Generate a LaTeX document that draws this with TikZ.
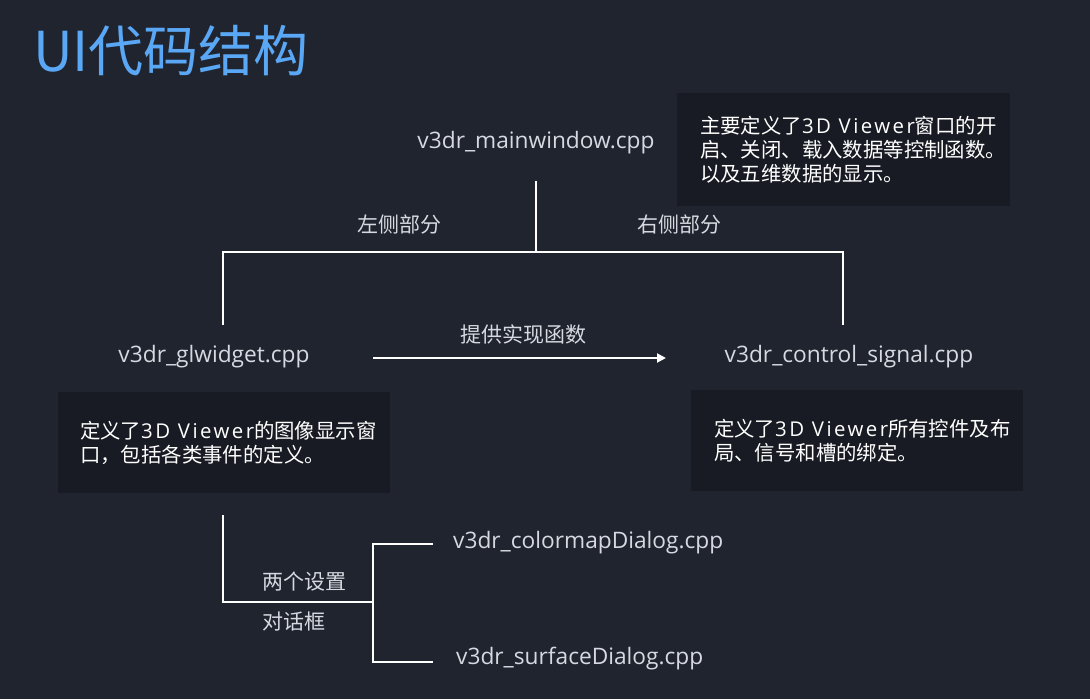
\documentclass[tikz,border=0pt]{standalone}
\usepackage{fontspec}
\setmainfont{Noto Sans CJK SC}
\newfontfamily\lat{Open Sans}
\newfontfamily\latsp[LetterSpace=12]{Open Sans}
\usetikzlibrary{arrows.meta}
\definecolor{bg}{HTML}{20242F}
\definecolor{boxbg}{HTML}{181B23}
\definecolor{titleblue}{HTML}{5AA8F5}
\definecolor{fntxt}{HTML}{D6DAE0}
\tikzset{
  file/.style={text=fntxt, font=\lat\fontsize{22.7}{26}\selectfont, inner sep=0pt},
  lbl/.style={text=fntxt, font=\fontsize{21}{26}\selectfont, inner sep=0pt},
  descbox/.style={fill=boxbg, draw=none, inner sep=0pt},
  desctext/.style={text=white, font=\fontsize{20.4}{24}\selectfont, align=left, inner sep=0pt, anchor=west},
  conn/.style={draw=white, line width=2pt},
}
\newcommand{\tdv}{{\latsp 3D Viewer}}
\begin{document}
\begin{tikzpicture}[x=1pt,y=-1pt]
\fill[bg] (0,0) rectangle (1090,699);
\useasboundingbox (0,0) rectangle (1090,699);

\node[text=titleblue, font=\fontsize{55}{60}\selectfont, inner sep=0pt, anchor=west] (title) at (33,51) {UI代码结构};

% top
\node[file] (main) at (536,143) {v3dr\_mainwindow.cpp};
\node[descbox, minimum width=333pt, minimum height=113pt] (topbox) at (843.5,149.5) {};
\node[desctext] (toptext) at ([xshift=23pt]topbox.west) {主要定义了\tdv 窗口的开\\启、关闭、载入数据等控制函数。\\以及五维数据的显示。};

\coordinate (mainbot) at (536,181);
\coordinate (junc) at (536,252);
\coordinate (lcorner) at (223,252);
\coordinate (rcorner) at (843,252);
\coordinate (lend) at (223,325);
\coordinate (rend) at (843,325);
\draw[conn] (mainbot) -- (junc);
\draw[conn] (lend) -- (lcorner) -- (rcorner) -- (rend);
\node[lbl] (leftpart) at (399,225) {左侧部分};
\node[lbl] (rightpart) at (679,225) {右侧部分};

% middle
\node[file] (gl) at (214,357) {v3dr\_glwidget.cpp};
\node[file] (ctrl) at (849,357) {v3dr\_control\_signal.cpp};
\coordinate (arrs) at (373,358);
\coordinate (arre) at (666,358);
\draw[conn, -{Triangle[length=9pt,width=9pt]}] (arrs) -- (arre) node[lbl, midway, xshift=4pt, yshift=24pt] (provide) {提供实现函数};

\node[descbox, minimum width=332pt, minimum height=101pt] (leftbox) at (224,442.5) {};
\node[desctext] (lefttext) at ([xshift=22pt]leftbox.west) {定义了\tdv 的图像显示窗\\口，包括各类事件的定义。};
\node[descbox, minimum width=332pt, minimum height=101pt] (rightbox) at (857,440.5) {};
\node[desctext] (righttext) at ([xshift=23pt]rightbox.west) {定义了\tdv 所有控件及布\\局、信号和槽的绑定。};

% bottom
\coordinate (btop) at (223,515);
\coordinate (bcorner) at (223,602);
\coordinate (bjunc) at (373,602);
\coordinate (btop2) at (373,544);
\coordinate (bbot2) at (373,662);
\coordinate (cmapend) at (433,544);
\coordinate (surfend) at (433,662);
\draw[conn] (btop) -- (bcorner) -- (bjunc);
\draw[conn] (cmapend) -- (btop2) -- (bbot2) -- (surfend);
\node[lbl, anchor=west] (two) at (262,582) {两个设置};
\node[lbl, anchor=west] (dlg) at (262,621) {对话框};
\node[file, anchor=west] (cmap) at (453,543) {v3dr\_colormapDialog.cpp};
\node[file, anchor=west] (surf) at (456,659) {v3dr\_surfaceDialog.cpp};
\end{tikzpicture}
\end{document}
